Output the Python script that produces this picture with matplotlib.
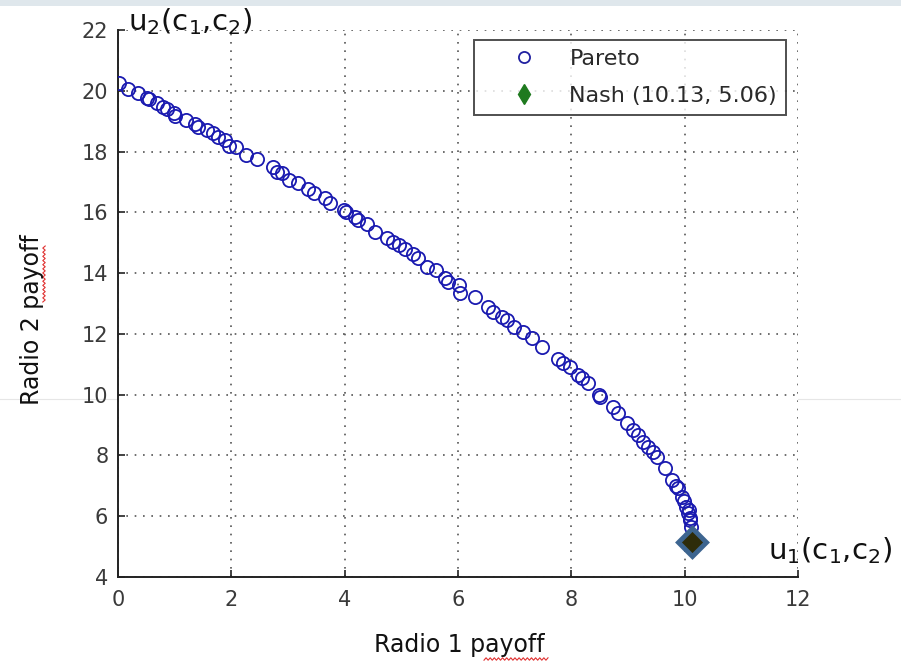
import numpy as np
import matplotlib
matplotlib.use("Agg")
import matplotlib.pyplot as plt
from matplotlib.lines import Line2D

pareto_x = [0.01, 0.18, 0.36, 0.51, 0.55, 0.69, 0.80, 0.86, 0.98, 1.01,
            1.20, 1.36, 1.42, 1.57, 1.68, 1.77, 1.89, 1.95, 2.09, 2.26,
            2.45, 2.74, 2.80, 2.89, 3.01, 3.18, 3.36, 3.45, 3.65, 3.74,
            3.98, 4.03, 4.18, 4.24, 4.39, 4.53, 4.74, 4.86, 4.95, 5.06,
            5.21, 5.30, 5.45, 5.62, 5.77, 5.83, 6.01, 6.03, 6.30, 6.53,
            6.62, 6.77, 6.86, 6.98, 7.15, 7.30, 7.49, 7.77, 7.86, 7.98,
            8.12, 8.18, 8.30, 8.48, 8.51, 8.74, 8.83, 8.98, 9.09, 9.18,
            9.27, 9.36, 9.45, 9.51, 9.65, 9.77, 9.85, 9.89, 9.95, 9.98,
            10.03, 10.06, 10.08, 10.09, 10.10, 10.12]
pareto_y = [20.27, 20.05, 19.92, 19.77, 19.72, 19.59, 19.48, 19.39, 19.26, 19.17,
            19.04, 18.91, 18.82, 18.71, 18.60, 18.49, 18.38, 18.18, 18.16, 17.89,
            17.75, 17.48, 17.34, 17.28, 17.06, 16.96, 16.76, 16.65, 16.46, 16.30,
            16.08, 16.02, 15.86, 15.75, 15.62, 15.36, 15.15, 15.03, 14.92, 14.78,
            14.63, 14.49, 14.21, 14.10, 13.83, 13.72, 13.61, 13.34, 13.22, 12.90,
            12.73, 12.57, 12.46, 12.24, 12.07, 11.85, 11.58, 11.19, 11.03, 10.92,
            10.65, 10.54, 10.37, 9.99, 9.93, 9.60, 9.39, 9.06, 8.84, 8.67,
            8.45, 8.29, 8.12, 7.96, 7.58, 7.19, 7.00, 6.92, 6.64, 6.50,
            6.31, 6.10, 6.20, 5.88, 5.95, 5.66]

nash_x = 10.13
nash_y = 5.14
nash_label = "Nash (10.13, 5.06)"

x_ticks = [0, 2, 4, 6, 8, 10, 12]
y_ticks = [4, 6, 8, 10, 12, 14, 16, 18, 20, 22]

W, H = 901, 663
fig = plt.figure(figsize=(W / 100, H / 100), dpi=100)
fig.patch.set_facecolor("white")

# slide decorations
fig.add_artist(plt.Rectangle((0, 1 - 6 / H), 1, 6 / H, transform=fig.transFigure,
                             color="#dfe7ec", lw=0, zorder=0))
fig.add_artist(Line2D([0, 1], [1 - 399 / H] * 2, transform=fig.transFigure,
                      color="#e6e6e6", lw=0.8, zorder=0))

ax = fig.add_axes([118 / W, 1 - 577 / H, (798 - 118) / W, (577 - 30) / H])
ax.set_xlim(0, 12)
ax.set_ylim(4, 22)
ax.set_xticks(x_ticks)
ax.set_yticks(y_ticks)
ax.grid(True, linestyle=(0, (1, 4)), color="#555555", linewidth=1.2)
ax.set_axisbelow(True)
for s in ["top", "right"]:
    ax.spines[s].set_visible(False)
for s in ["left", "bottom"]:
    ax.spines[s].set_color("#222222")
    ax.spines[s].set_linewidth(1.4)
ax.tick_params(axis="both", direction="in", length=5, width=1.2, color="#222222",
               labelsize=15, labelcolor="#3a3a3a")
ax.tick_params(axis="x", pad=9)
ax.tick_params(axis="y", pad=7)

ax.plot(pareto_x, pareto_y, linestyle="none", marker="o", markersize=9.5,
        markerfacecolor="none", markeredgecolor="#1a1ab0", markeredgewidth=1.3,
        zorder=3)
ax.plot([nash_x], [nash_y], linestyle="none", marker="D", markersize=14,
        markerfacecolor="#2e2c0a", markeredgecolor="#3d6590", markeredgewidth=3.5,
        zorder=5, clip_on=False)

handles = [
    Line2D([], [], linestyle="none", marker="o", markersize=8, markerfacecolor="none",
           markeredgecolor="#2020a0", markeredgewidth=1.3),
    Line2D([], [], linestyle="none", marker="d", markersize=10, markerfacecolor="#1f7a1f",
           markeredgecolor="#1f7a1f"),
]
leg = fig.legend(handles, ["Pareto", nash_label], loc="upper right",
                 bbox_to_anchor=(786 / W, 1 - 40 / H), fontsize=16,
                 frameon=True, fancybox=False, edgecolor="#222222",
                 borderpad=0.4, handlelength=3.7, handletextpad=0.2,
                 labelspacing=0.78, borderaxespad=0)
leg.get_frame().set_linewidth(1.4)
for t in leg.get_texts():
    t.set_color("#2a2a2a")

fig.text(459 / W, 1 - 645 / H, "Radio 1 payoff", ha="center", va="center",
         fontsize=17, color="#111111")
fig.text(32 / W, 1 - 320 / H, "Radio 2 payoff", ha="center", va="center",
         rotation=90, fontsize=17, color="#111111")

fig.text(128 / W, 1 - 22 / H, r"$\mathregular{u_2(c_1{,}c_2)}$", ha="left", va="center",
         fontsize=21, color="#111111")
fig.text(768 / W, 1 - 551 / H, r"$\mathregular{u_1(c_1{,}c_2)}$", ha="left", va="center",
         fontsize=21, color="#111111")

# spell-check squiggles
def squiggle(x0, x1, y0, vertical=False):
    n = int(abs(x1 - x0) / 2.0)
    t = np.linspace(x0, x1, n)
    w = y0 + 1.2 * np.array([(-1) ** i for i in range(n)])
    if vertical:
        fig.add_artist(Line2D(w / W, 1 - t / H, transform=fig.transFigure,
                              color="#e03030", lw=0.8))
    else:
        fig.add_artist(Line2D(t / W, 1 - w / H, transform=fig.transFigure,
                              color="#e03030", lw=0.8))

squiggle(484, 548, 659)
squiggle(246, 302, 44, vertical=True)

fig.savefig("out.png", dpi=100)
